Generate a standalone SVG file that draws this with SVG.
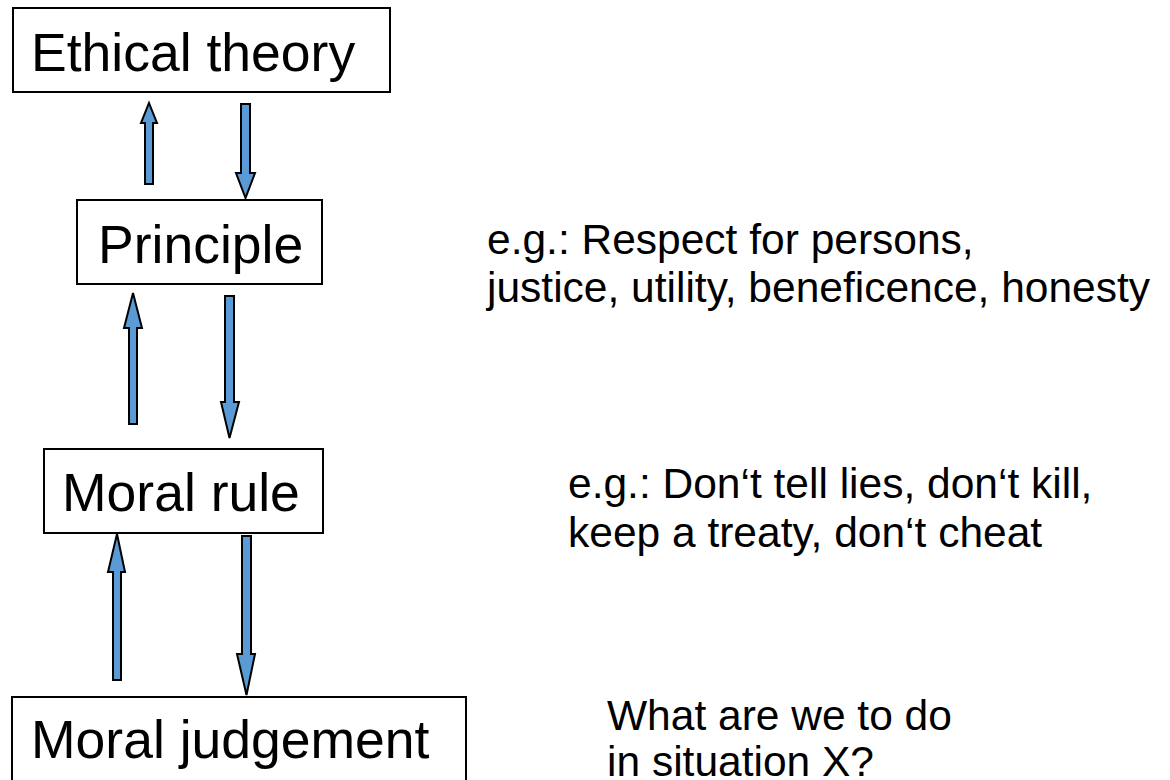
<svg xmlns="http://www.w3.org/2000/svg" width="1170" height="780" viewBox="0 0 1170 780">
<style>
.box{fill:#fff;stroke:#000;stroke-width:2}
.lbl{font-family:"Liberation Sans",Arial,sans-serif;font-size:53.5px;fill:#000}
.note{font-family:"Liberation Sans",Arial,sans-serif;font-size:42.5px;fill:#000}
.arr{fill:#5B9BD5;stroke:#000;stroke-width:2;stroke-linejoin:miter}
</style>
<rect width="1170" height="780" fill="#fff"/>
<g id="connectors">
<polygon class="arr" points="149,103 157,123 153,123 153,184 145,184 145,123 141,123"/>
<polygon class="arr" points="241,104 250,104 250,173 255,173 245.5,198 236,173 241,173"/>
<polygon class="arr" points="133,293 142,328 137,328 137,424 129,424 129,328 124,328"/>
<polygon class="arr" points="225,296 234,296 234,402 239,402 229.5,438 221,402 225,402"/>
<polygon class="arr" points="117,534 125,572 121,572 121,680 113,680 113,572 108,572"/>
<polygon class="arr" points="242,536 251,536 251,654 255,654 246.5,695 237,654 242,654"/>
</g>
<g id="ethical-theory">
<rect class="box" x="13" y="8" width="377" height="84"/>
<text class="lbl" x="31" y="71">Ethical theory</text>
</g>
<g id="principle">
<rect class="box" x="77" y="200" width="245" height="84"/>
<text class="lbl" x="98" y="263">Principle</text>
</g>
<g id="moral-rule">
<rect class="box" x="44" y="449" width="279" height="84"/>
<text class="lbl" x="62" y="511">Moral rule</text>
</g>
<g id="moral-judgement">
<rect class="box" x="12" y="697" width="454" height="100"/>
<text class="lbl" x="31" y="758">Moral judgement</text>
</g>
<g id="notes">
<text class="note" x="487" y="254">e.g.: Respect for persons,</text>
<text class="note" x="487" y="302">justice, utility, beneficence, honesty</text>
<text class="note" x="568" y="498">e.g.: Don‘t tell lies, don‘t kill,</text>
<text class="note" x="568" y="547">keep a treaty, don‘t cheat</text>
<text class="note" x="607" y="730">What are we to do</text>
<text class="note" x="607" y="776">in situation X?</text>
</g>
</svg>
